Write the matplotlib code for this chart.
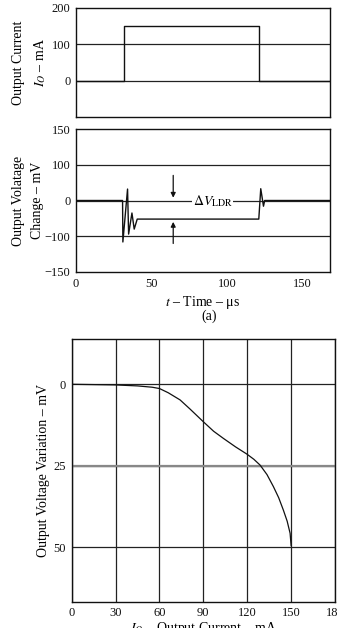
"""Load-transient response and load regulation of the regulator output."""

import numpy as np
import matplotlib
matplotlib.use("Agg")
import matplotlib.pyplot as plt

plt.rcParams["font.family"] = ["Liberation Serif", "DejaVu Serif"]
plt.rcParams["mathtext.fontset"] = "stix"
plt.rcParams["font.size"] = 9

# (a) load step: output current vs time
pulse_t = [0, 31.7, 31.7, 121, 121, 168]
pulse_i = [0, 0, 150, 150, 0, 0]

# (a) output voltage change with ringing at both edges
resp_t = [0, 30.8, 31.0, 34.1, 34.8, 37.0, 38.5, 40.5, 120.9, 122.2, 124.0, 124.8, 168]
resp_v = [0, 0, -108, 32, -94, -35, -80, -52, -52, 33, -16, 0, 0]

# Delta V_LDR arrows
arrow_t = 64.3
arrow_top = (78, 0)
arrow_bot = (-114, -52)

# (b) output voltage variation vs load current
load_i = [0, 30, 45, 55, 60, 66, 74.1, 80.9, 90, 97, 103.7, 112, 119.7, 124.5,
          128.8, 133.5, 137.9, 141.5, 144.7, 147.3, 149.3, 150]
load_dv = [0, 0.2, 0.5, 0.9, 1.3, 2.6, 4.8, 7.6, 11.5, 14.4, 16.6, 19.2, 21.4, 23.0,
           24.8, 27.7, 31.4, 34.8, 38.6, 42.0, 45.7, 49.5]

top_yticks = [0, 100, 200]
mid_yticks = [-150, -100, 0, 100, 150]
time_ticks = [0, 50, 100, 150]
cur_ticks = [0, 30, 60, 90, 120, 150, 180]
var_ticks = [0, 25, 50]

INK = "#111111"
GRID = "#222222"


def fwd(v):
    v = np.asarray(v, dtype=float)
    a = np.abs(v)
    return np.where(a <= 100, v / 100, np.sign(v) * (1 + (a - 100) / 50))


def inv(p):
    p = np.asarray(p, dtype=float)
    a = np.abs(p)
    return np.where(a <= 1, p * 100, np.sign(p) * (100 + (a - 1) * 50))


def frame(ax):
    for s in ax.spines.values():
        s.set_color(INK)
        s.set_linewidth(1.0)
    ax.tick_params(length=0, pad=4, colors=INK)


fig = plt.figure(figsize=(3.37, 6.28), dpi=100)
W, H = 337, 628


def px_axes(l, t, r, b):
    return fig.add_axes([l / W, 1 - b / H, (r - l) / W, (b - t) / H])


# top: output current
ax1 = px_axes(76, 8, 330, 117)
ax1.plot(pulse_t, pulse_i, color=INK, lw=1.0)
ax1.set_xlim(0, 168)
ax1.set_ylim(-100, 200)
ax1.set_yticks(top_yticks)
ax1.set_xticks([])
for y in [0, 100]:
    ax1.axhline(y, color=GRID, lw=0.9, zorder=0)
ax1.set_ylabel("Output Current\n$I_O$ – mA", fontsize=10, linespacing=1.6, labelpad=2.5)
frame(ax1)

# middle: output voltage change
ax2 = px_axes(76, 129, 330, 272)
ax2.set_yscale("function", functions=(fwd, inv))
ax2.plot(resp_t, resp_v, color=INK, lw=1.0)
ax2.set_xlim(0, 168)
ax2.set_ylim(-150, 150)
ax2.set_yticks(mid_yticks)
ax2.set_xticks(time_ticks)
ax2.yaxis.set_minor_locator(matplotlib.ticker.NullLocator())
for y in [-100, 0, 100]:
    ax2.axhline(y, color=GRID, lw=0.9, zorder=0)
ax2.annotate("", xy=(arrow_t, arrow_top[1]), xytext=(arrow_t, arrow_top[0]),
             arrowprops=dict(arrowstyle="-|>", color=INK, lw=0.9, mutation_scale=7))
ax2.annotate("", xy=(arrow_t, arrow_bot[1]), xytext=(arrow_t, arrow_bot[0]),
             arrowprops=dict(arrowstyle="-|>", color=INK, lw=0.9, mutation_scale=7))
ax2.text(90.5, -2, r"$\Delta V_{\mathrm{LDR}}$", ha="center", va="center", fontsize=10,
         bbox=dict(facecolor="white", edgecolor="none", pad=0.5), zorder=3)
ax2.set_ylabel("Output Volatage\nChange – mV", fontsize=10, linespacing=1.6, labelpad=0.5)
ax2.set_xlabel("$t$ – Time – μs", fontsize=10, labelpad=3)
ax2.text(0.525, -0.31, "(a)", transform=ax2.transAxes, ha="center", va="center", fontsize=10)
frame(ax2)

# bottom: load regulation
ax3 = px_axes(71.7, 339.3, 335, 601.7)
ax3.plot(load_i, load_dv, color=INK, lw=0.9)
ax3.set_xlim(0, 180)
ax3.set_ylim(66.7, -13.8)
ax3.set_xticks(cur_ticks)
ax3.set_yticks(var_ticks)
ax3.grid(True, color=GRID, lw=0.9, zorder=0)
ax3.axhline(25, color="#888888", lw=1.6, zorder=1)
ax3.set_axisbelow(True)
ax3.set_ylabel("Output Voltage Variation – mV", fontsize=10, labelpad=2)
ax3.set_xlabel("$I_O$ – Output Current – mA", fontsize=10, labelpad=0.5)
frame(ax3)
ax3.tick_params(axis="y", pad=4.5)

fig.savefig("out.png", dpi=100, facecolor="white")
